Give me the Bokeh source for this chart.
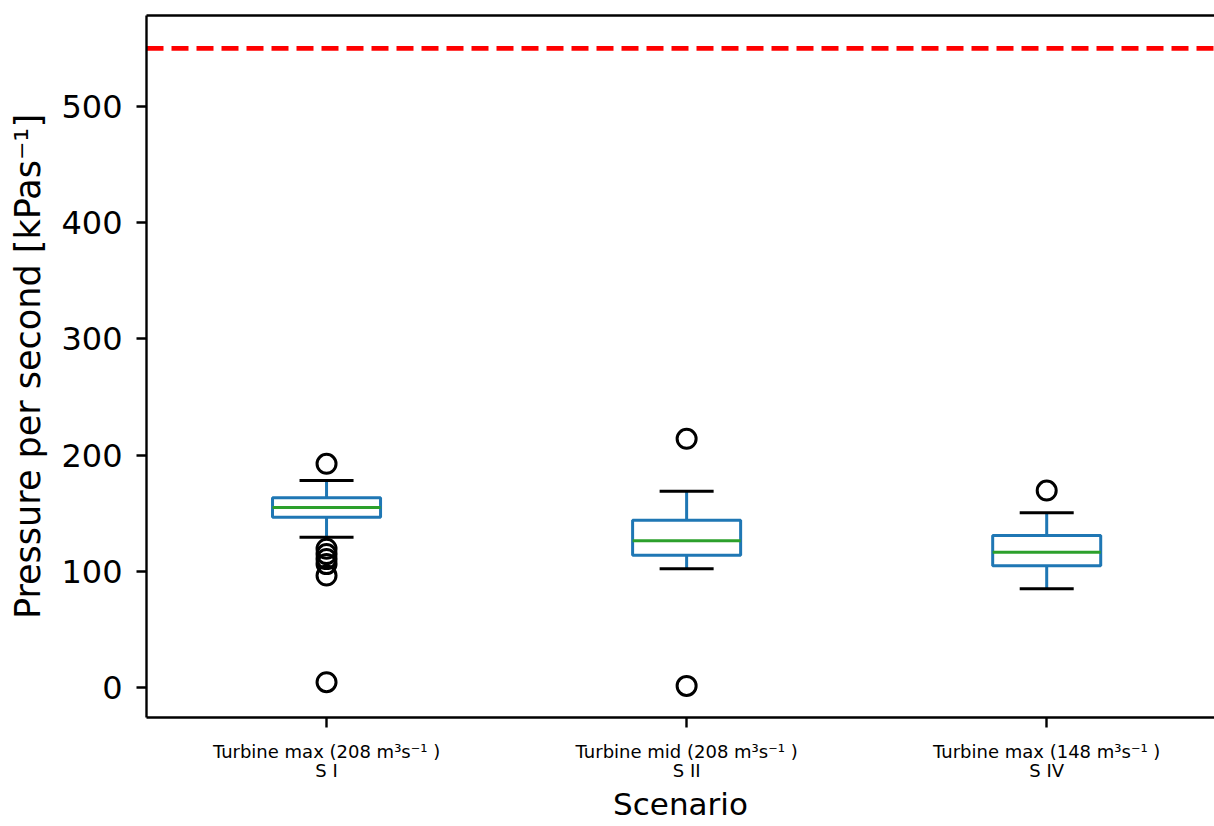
from bokeh.plotting import figure
from bokeh.models import Range1d, FixedTicker, LinearAxis, ColumnDataSource
from bokeh.embed import file_html
from bokeh.resources import INLINE

# ---- data ----
positions = [1, 2, 3]
tick_labels = [
    "Turbine max (208 m³s⁻¹ )\nS I",
    "Turbine mid (208 m³s⁻¹ )\nS II",
    "Turbine max (148 m³s⁻¹ )\nS IV",
]
q1 = [146.6, 113.9, 104.7]
median = [154.9, 126.2, 116.4]
q3 = [163.2, 144.0, 130.8]
whisker_low = [129.3, 102.1, 84.9]
whisker_high = [178.1, 168.9, 150.3]
outliers = [
    [192.5, 119.4, 114.8, 110.5, 106.2, 96.4, 4.6],
    [214.0, 1.4],
    [169.5],
]
threshold = 550
y_ticks = [0, 100, 200, 300, 400, 500]

FONT = "DejaVu Sans"
BLUE = "#1f77b4"
GREEN = "#2ca02c"
BOX_W = 0.30
CAP_W = 0.15
X0, X1 = 0.5, 3.466

p = figure(width=1214, height=826, output_backend="svg", toolbar_location=None,
           x_range=Range1d(X0, X1), y_range=Range1d(-25.8, 578.3),
           min_border_left=146, min_border_right=0, min_border_top=15, min_border_bottom=109)
p.outline_line_color = None
p.xgrid.visible = False
p.ygrid.visible = False
p.background_fill_color = "white"

box_src = ColumnDataSource(dict(
    x=positions, q1=q1, q3=q3, med=median, lo=whisker_low, hi=whisker_high,
    xl=[x - BOX_W / 2 for x in positions], xr=[x + BOX_W / 2 for x in positions],
    cl=[x - CAP_W / 2 for x in positions], cr=[x + CAP_W / 2 for x in positions],
))

# whiskers
p.segment(x0="x", y0="q3", x1="x", y1="hi", source=box_src, line_color=BLUE, line_width=3)
p.segment(x0="x", y0="q1", x1="x", y1="lo", source=box_src, line_color=BLUE, line_width=3)
# caps
p.segment(x0="cl", y0="hi", x1="cr", y1="hi", source=box_src, line_color="black", line_width=3)
p.segment(x0="cl", y0="lo", x1="cr", y1="lo", source=box_src, line_color="black", line_width=3)
# boxes
p.vbar(x="x", width=BOX_W, bottom="q1", top="q3", source=box_src,
       fill_color="white", line_color=BLUE, line_width=3)
# medians
p.segment(x0="xl", y0="med", x1="xr", y1="med", source=box_src, line_color=GREEN, line_width=3)

# outliers
ox, oy = [], []
for x, vals in zip(positions, outliers):
    for v in vals:
        ox.append(x)
        oy.append(v)
p.scatter(ox, oy, marker="circle", size=19, fill_color=None, line_color="black", line_width=3)

# threshold line
p.line([X0, X1], [threshold, threshold], line_color="red", line_width=4.6, line_dash="17 8")

# axes
for ax in (p.xaxis[0], p.yaxis[0]):
    ax.axis_line_color = "black"
    ax.axis_line_width = 2.4
    ax.major_tick_line_color = "black"
    ax.major_tick_line_width = 2.4
    ax.major_tick_in = 0
    ax.major_tick_out = 10
    ax.minor_tick_line_color = None
    ax.major_label_text_font = FONT
    ax.major_label_text_color = "black"
    ax.axis_label_text_font = FONT
    ax.axis_label_text_font_style = "normal"
    ax.axis_label_text_color = "black"

p.xaxis.ticker = FixedTicker(ticks=positions)
p.xaxis.major_label_overrides = {pos: lab for pos, lab in zip(positions, tick_labels)}
p.xaxis.major_label_text_font_size = "18px"
p.xaxis.major_label_text_line_height = 0.95
p.xaxis.major_label_standoff = 13
p.xaxis.axis_label = "Scenario"
p.xaxis.axis_label_text_font_size = "31px"
p.xaxis.axis_label_text_line_height = 1.0
p.xaxis.axis_label_standoff = 2

p.yaxis.ticker = FixedTicker(ticks=y_ticks)
p.yaxis.major_label_text_font_size = "32px"
p.yaxis.major_label_standoff = 14
p.yaxis.axis_label = "Pressure per second [kPas⁻¹]"
p.yaxis.axis_label_text_font_size = "35px"
p.yaxis.axis_label_text_line_height = 1.0
p.yaxis.axis_label_standoff = 10

top = LinearAxis(ticker=FixedTicker(ticks=[]), axis_line_color="black", axis_line_width=2.4,
                 major_tick_line_color=None, minor_tick_line_color=None,
                 major_label_text_font_size="0px", major_tick_out=0, major_tick_in=0,
                 major_label_standoff=0)
p.add_layout(top, "above")

open("out.html", "w").write(file_html(p, INLINE))
